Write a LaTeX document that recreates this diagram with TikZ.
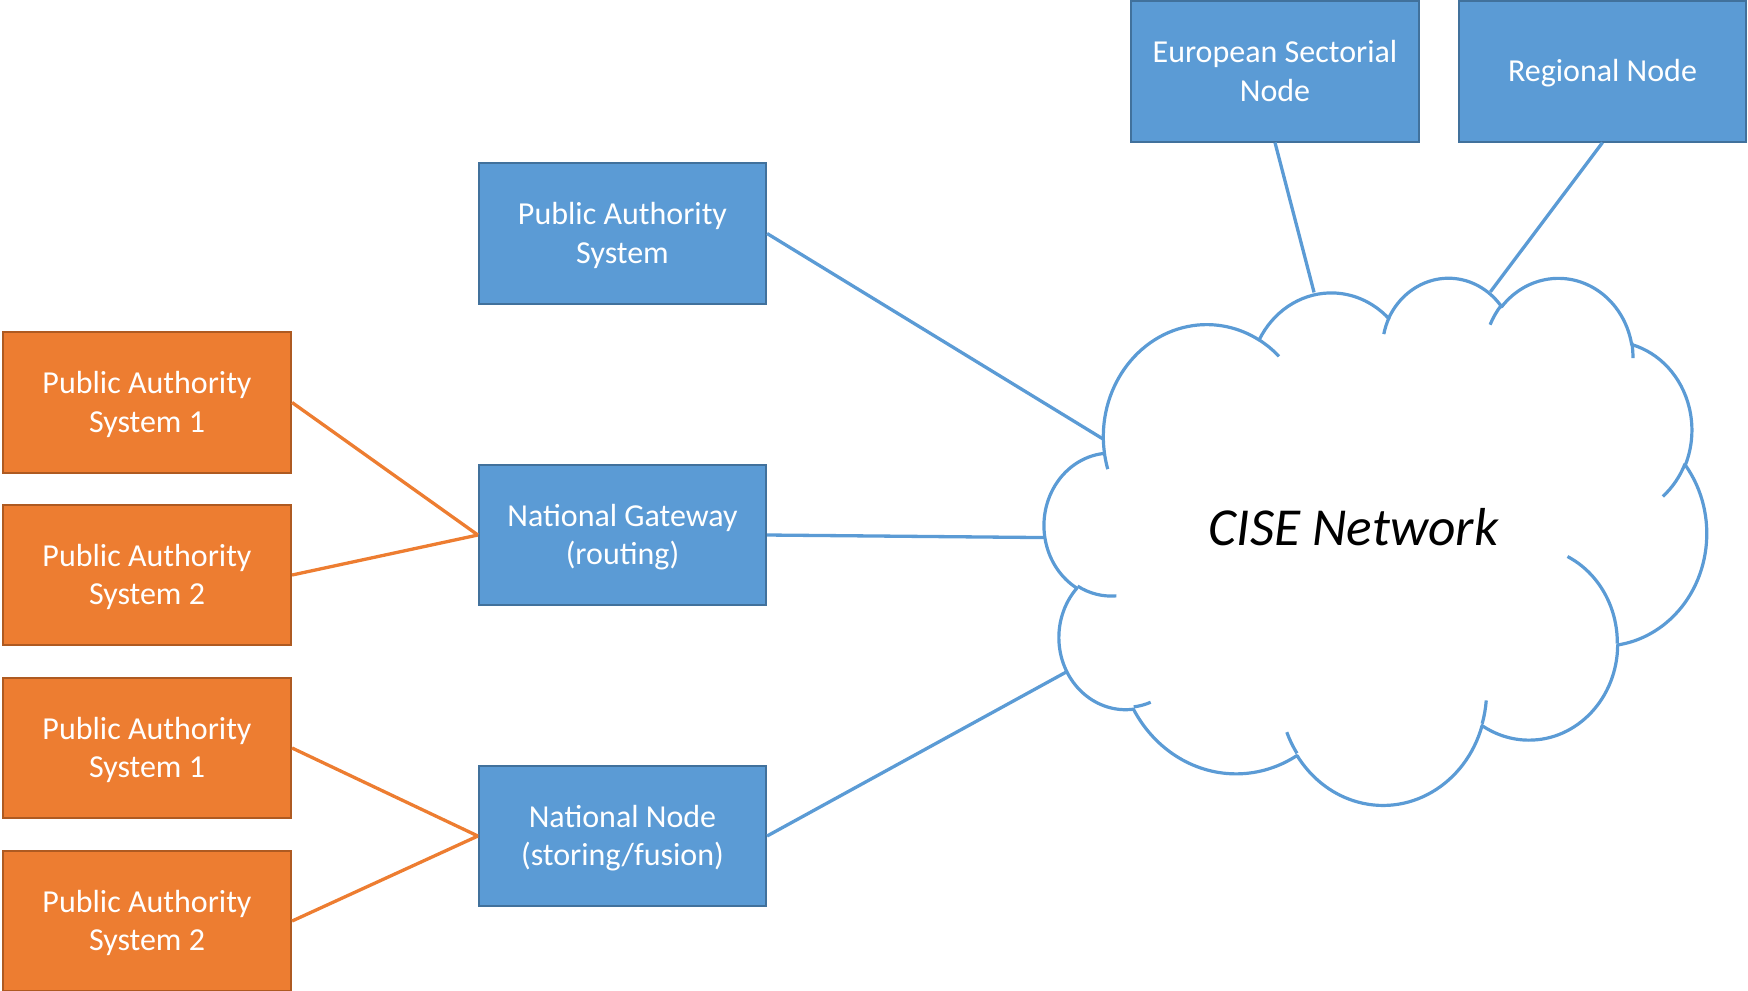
\documentclass[tikz,border=0pt]{standalone}
\usepackage{fontspec}
\setmainfont{Carlito}

\definecolor{boxblue}{HTML}{5B9BD5}
\definecolor{boxbluedark}{HTML}{41719C}
\definecolor{boxorange}{HTML}{ED7D31}
\definecolor{boxorangedark}{HTML}{AE5A21}

% visual angle on an ellipse -> parameter angle
\pgfmathdeclarefunction{visang}{3}{%
  \pgfmathparse{atan2(#1*sin(#3),#2*cos(#3))}%
}
% centred box text, lowered a little
\newcommand\boxtext[1]{\raisebox{-0.8pt}[\height][\depth]{\begin{tabular}{@{}c@{}}#1\end{tabular}}}

\begin{document}
\begin{tikzpicture}[x=0.01cm, y=-0.01cm]

      \tikzset{sysbox/.style={draw=boxbluedark, fill=boxblue, line width=0.02cm, text=white,
                 minimum width=2.87cm, minimum height=1.40cm, inner sep=0pt,
                 font=\fontsize{9.1}{10.9}\selectfont},
               pabox/.style={sysbox, draw=boxorangedark, fill=boxorange, minimum width=2.88cm},
               blueline/.style={draw=boxblue, line width=0.033cm},
               orangeline/.style={draw=boxorange, line width=0.033cm},
               cloudline/.style={draw=boxblue, line width=0.032cm, line join=round}}

      \useasboundingbox (0,0) rectangle (1748,990);
      \clip (0,0) rectangle (1748,990);

%% Boxes
      	\node[sysbox] (eusect) at (1275,71.5) {\boxtext{European Sectorial\\Node}};
      	\node[sysbox] (regional) at (1602.5,71.5) {\boxtext{Regional Node}};
      	\node[sysbox] (pas) at (622.5,233.5) {\boxtext{Public Authority\\System}};
      	\node[sysbox] (gateway) at (622.5,535) {\boxtext{National Gateway\\(routing)}};
      	\node[sysbox] (natnode) at (622.5,836) {\boxtext{National Node\\(storing/fusion)}};
      	\node[pabox] (pa1) at (147,402.5) {\boxtext{Public Authority\\System 1}};
      	\node[pabox] (pa2) at (147,575) {\boxtext{Public Authority\\System 2}};
      	\node[pabox] (pa3) at (147,748) {\boxtext{Public Authority\\System 1}};
      	\node[pabox] (pa4) at (147,921) {\boxtext{Public Authority\\System 2}};

%% Cloud
      \begin{scope}[shift={(1044.5,276.5)}, xscale=1.5324, yscale=1.2199]
		\draw[cloudline] (39,143.7)
		  \foreach \rx/\ry/\sa/\sw in {67.53/91.90/-190.4875/123.7805, 53.33/72.67/-144.1024/89.9452,
		      43.65/59.45/-145.8079/99.7230, 48.57/65.95/-130.9861/117.2417,
		      53.33/72.73/-78.7089/109.0269, 67.75/92.20/-46.2673/130.2690,
		      57.85/78.67/0.6250/114.0333, 67.52/92.15/22.4516/115.1726,
		      77.20/105.43/66.2426/75.7110, 43.60/59.18/-274.9421/146.7356,
		      43.45/59.45/-246.8285/152.5189}{
		    arc[x radius=\rx, y radius=\ry, start angle={visang(\rx,\ry,\sa)},
		        delta angle={mod(visang(\rx,\ry,\sa+\sw)-visang(\rx,\ry,\sa)+720,360)}]
		  } -- cycle;
		% inner arcs
		\draw[cloudline]
		  \foreach \px/\py/\rx/\ry/\sa/\sw in {46.93/261.77/43.45/59.45/86.742/26.4295,
		      69.28/348.99/43.60/59.18/73.6105/11.4475, 164.78/390.90/67.52/92.15/137.6242/14.0811,
		      288.27/347.51/67.52/92.15/6.4533/15.9984, 341.29/229.54/57.85/78.67/-70.2924/70.9174,
		      417.98/153.54/53.33/72.73/30.3180/27.7515, 383.24/54.26/48.57/65.95/-13.7443/14.8589,
		      290.78/39.52/48.57/65.95/-149.1815/18.1954, 221.41/47.20/43.65/59.45/-163.4943/17.6864,
		      140.00/51.92/67.53/91.90/-66.7070/12.3194, 41.27/157.89/67.53/91.90/157.6544/11.8582}{
		    (\px,\py) arc[x radius=\rx, y radius=\ry, start angle={visang(\rx,\ry,\sa)},
		        delta angle={mod(visang(\rx,\ry,\sa+\sw)-visang(\rx,\ry,\sa)+720,360)}]
		  };
		\coordinate (cl-pas) at (38.2,133.2);
		\coordinate (cl-gw) at (0,214);
		\coordinate (cl-nn) at (14.5,324);
		\coordinate (cl-es) at (175.9,13.0);
		\coordinate (cl-rn) at (291.0,12.5);
      \end{scope}
      	\node[font=\fontsize{15.2}{18}\selectfont\itshape, anchor=base] (cise) at (1353.5,545) {CISE Network};

%Lines
		\draw[blueline] (pas.east) -- (cl-pas);
		\draw[blueline] (gateway.east) -- (cl-gw);
		\draw[blueline] (natnode.east) -- (cl-nn);
		\draw[blueline] (eusect.south) -- (cl-es);
		\draw[blueline] (regional.south) -- (cl-rn);
		\draw[orangeline] (pa1.east) -- (gateway.west);
		\draw[orangeline] (pa2.east) -- (gateway.west);
		\draw[orangeline] (pa3.east) -- (natnode.west);
		\draw[orangeline] (pa4.east) -- (natnode.west);

	\end{tikzpicture}
\end{document}
